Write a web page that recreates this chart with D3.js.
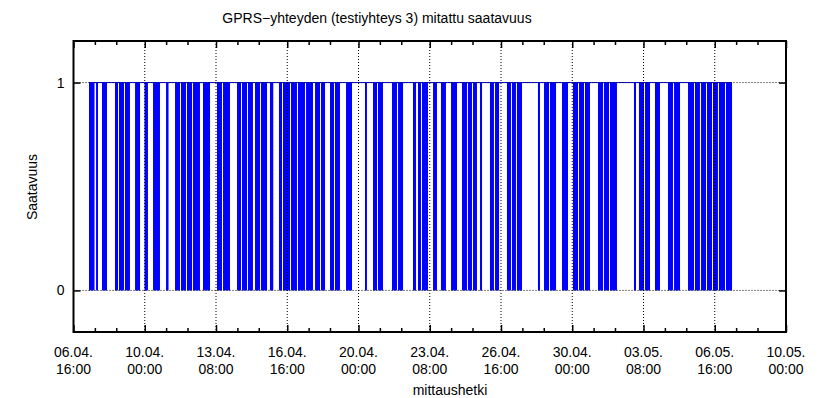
<!DOCTYPE html>
<html>
<head>
<meta charset="utf-8">
<script src="https://cdn.jsdelivr.net/npm/d3@7"></script>
<style>
  body { margin: 0; background: #fff; }
  text { font-family: "Liberation Sans", Arial, sans-serif; fill: #000; }
</style>
</head>
<body>
<script>
// measurement period (UTC) and tick step in hours
var startTime = Date.UTC(2005, 3, 6, 16, 0);
var endHours = 800;
var majorStepHours = 80;
var minorOffsets = [24, 48];

// y ticks
var yTicks = [0, 1];

// observed availability line: first and last measurement (hours since start)
var firstHour = 17.4;
var lastHour = 739.4;

// clusters of failed measurements (availability dropping to 0), hours since start
var outages = [
  [17.4, 23.6], [25.3, 27.5], [32.0, 37.6], [46.6, 50.0], [51.1, 56.7], [57.8, 63.4],
  [69.1, 74.7], [79.7, 83.6], [89.3, 97.1], [103.9, 106.7], [114.0, 119.6], [120.7, 126.3],
  [127.4, 133.1], [134.2, 142.0], [145.4, 153.3], [161.1, 166.7], [167.9, 175.7],
  [183.6, 188.1], [189.2, 194.8], [195.9, 201.5], [203.8, 209.4], [210.5, 217.3],
  [220.6, 224.3], [230.7, 234.1], [235.2, 243.1], [244.2, 250.9], [252.1, 259.9],
  [261.1, 268.9], [271.2, 276.8], [277.9, 282.4], [288.0, 292.5], [293.6, 299.2],
  [306.0, 312.7], [327.3, 329.5], [336.3, 340.8], [341.9, 347.5], [357.6, 363.2],
  [364.4, 370.0], [381.2, 384.6], [386.8, 390.2], [391.3, 398.0], [403.7, 408.1],
  [412.6, 418.2], [423.9, 430.6], [436.2, 441.8], [442.9, 447.4], [448.6, 453.0],
  [456.4, 458.7], [467.6, 472.1], [473.3, 477.8], [486.7, 491.2], [492.3, 496.8],
  [497.9, 503.6], [521.5, 523.8], [528.3, 533.9], [535.0, 541.8], [548.5, 555.2],
  [560.8, 566.5], [567.6, 573.2], [574.3, 579.9], [588.9, 594.5], [595.6, 601.3],
  [602.4, 610.2], [629.3, 631.6], [634.9, 640.6], [641.7, 647.3], [652.9, 658.5],
  [667.5, 673.1], [674.3, 681.0], [690.0, 696.7], [697.8, 703.4], [704.6, 710.2],
  [711.3, 716.9], [718.0, 723.6], [724.7, 731.5], [732.6, 739.4]
];

var W = 823, H = 398;
var margin = { top: 41, right: 37, bottom: 66, left: 73.5 },
    width = W - margin.left - margin.right,
    height = H - margin.top - margin.bottom;

function hourDate(h) { return new Date(startTime + h * 3600 * 1000); }

var x = d3.scaleUtc()
    .domain([hourDate(0), hourDate(endHours)])
    .range([0, width]);

var y = d3.scaleLinear()
    .domain([-0.2, 1.2])
    .range([height, 0]);

var svg = d3.select("body").append("svg")
    .attr("width", W)
    .attr("height", H);

var g = svg.append("g")
    .attr("transform", "translate(" + margin.left + "," + margin.top + ")");

// data: horizontal line at 1, failures drawn down to 0
g.append("line")
    .attr("x1", x(hourDate(firstHour)))
    .attr("x2", x(hourDate(lastHour)))
    .attr("y1", y(1)).attr("y2", y(1))
    .attr("stroke", "#0000ff").attr("stroke-width", 1);

g.selectAll(".outage")
    .data(outages)
    .enter().append("rect")
    .attr("class", "outage")
    .attr("x", function (d) { return x(hourDate(d[0])); })
    .attr("width", function (d) { return x(hourDate(d[1])) - x(hourDate(d[0])); })
    .attr("y", y(1))
    .attr("height", y(0) - y(1))
    .attr("fill", "#0000ff");

// ticks
var majors = d3.range(0, endHours + 1, majorStepHours);
var minors = [];
majors.forEach(function (m) {
    minorOffsets.forEach(function (o) { if (m + o < endHours) minors.push(m + o); });
});

var xAxisB = d3.axisBottom(x)
    .tickValues(majors.map(hourDate))
    .tickSize(-7).tickFormat("");
var xAxisT = d3.axisTop(x)
    .tickValues(majors.map(hourDate))
    .tickSize(-7).tickFormat("");
var xMinorB = d3.axisBottom(x).tickValues(minors.map(hourDate)).tickSize(-4).tickFormat("");
var xMinorT = d3.axisTop(x).tickValues(minors.map(hourDate)).tickSize(-4).tickFormat("");
var yAxisL = d3.axisLeft(y).tickValues(yTicks).tickSize(-7).tickFormat("");
var yAxisR = d3.axisRight(y).tickValues(yTicks).tickSize(-7).tickFormat("");

// grid (dotted, on top of data)
g.append("g").selectAll("line")
    .data(majors.slice(1, -1))
    .enter().append("line")
    .attr("x1", function (d) { return x(hourDate(d)); })
    .attr("x2", function (d) { return x(hourDate(d)); })
    .attr("y1", 0).attr("y2", height)
    .attr("stroke", "#000").attr("stroke-width", 1).attr("stroke-dasharray", "1,2");
g.append("g").selectAll("line")
    .data(yTicks)
    .enter().append("line")
    .attr("x1", 0).attr("x2", width)
    .attr("y1", function (d) { return y(d); })
    .attr("y2", function (d) { return y(d); })
    .attr("stroke", "#000").attr("stroke-width", 1).attr("stroke-dasharray", "1,2");

[[xAxisB, height, 0], [xMinorB, height, 0], [xAxisT, 0, 0], [xMinorT, 0, 0],
 [yAxisL, 0, 0], [yAxisR, 0, width]].forEach(function (a) {
    var ax = g.append("g")
        .attr("transform", "translate(" + a[2] + "," + a[1] + ")")
        .call(a[0]);
    ax.select(".domain").remove();
    ax.selectAll("line").attr("stroke", "#000").attr("stroke-width", 1.5);
});

// frame
g.append("rect")
    .attr("width", width).attr("height", height)
    .attr("fill", "none").attr("stroke", "#000").attr("stroke-width", 2);

// tick labels
var fmtDay = d3.utcFormat("%d.%m."), fmtTime = d3.utcFormat("%H:%M");
var xl = g.append("g").selectAll("text")
    .data(majors)
    .enter().append("text")
    .attr("text-anchor", "middle")
    .attr("font-size", 14)
    .attr("transform", function (d) { return "translate(" + x(hourDate(d)) + "," + (height + 25) + ")"; });
xl.append("tspan").attr("x", 0).attr("y", 0).text(function (d) { return fmtDay(hourDate(d)); });
xl.append("tspan").attr("x", 0).attr("y", 17).text(function (d) { return fmtTime(hourDate(d)); });

g.append("g").selectAll("text")
    .data(yTicks)
    .enter().append("text")
    .attr("x", -9)
    .attr("y", function (d) { return y(d) + 5; })
    .attr("text-anchor", "end")
    .attr("font-size", 14)
    .text(function (d) { return d; });

// titles
svg.append("text")
    .attr("x", 377).attr("y", 23)
    .attr("text-anchor", "middle").attr("font-size", 14)
    .text("GPRS\u2212yhteyden (testiyhteys 3) mitattu saatavuus");

svg.append("text")
    .attr("x", 450).attr("y", 395)
    .attr("text-anchor", "middle").attr("font-size", 14)
    .text("mittaushetki");

svg.append("text")
    .attr("transform", "translate(37,187) rotate(-90)")
    .attr("text-anchor", "middle").attr("font-size", 14)
    .text("Saatavuus");
</script>
</body>
</html>
